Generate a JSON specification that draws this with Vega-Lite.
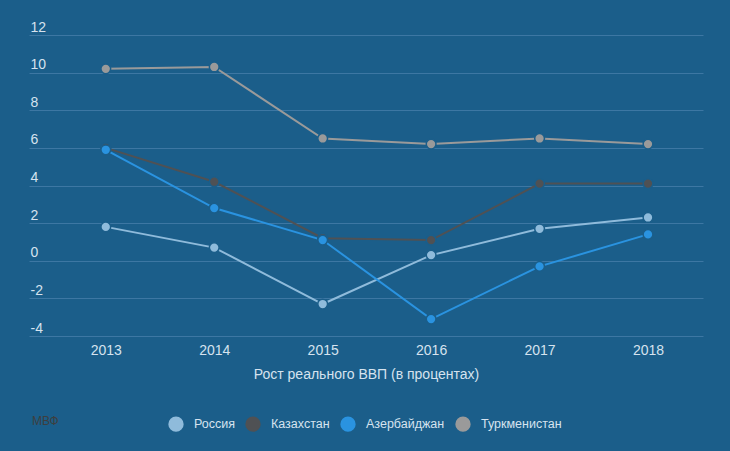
{
  "$schema": "https://vega.github.io/schema/vega-lite/v6.json",
  "width": 674,
  "height": 301,
  "autosize": {"type": "none"},
  "padding": {"left": 29, "top": 35, "right": 27, "bottom": 115},
  "background": "#1b5e8a",
  "config": {"view": {"stroke": null}, "font": "Liberation Sans"},
  "title": {
    "text": "МВФ",
    "orient": "bottom",
    "anchor": "start",
    "frame": "group",
    "fontSize": 12,
    "fontWeight": "normal",
    "color": "#3e3e3e",
    "offset": -16,
    "dx": 3
  },
  "data": {
    "values": [
      {"year": 2013, "country": "Россия", "value": 1.8},
      {"year": 2014, "country": "Россия", "value": 0.7},
      {"year": 2015, "country": "Россия", "value": -2.3},
      {"year": 2016, "country": "Россия", "value": 0.3},
      {"year": 2017, "country": "Россия", "value": 1.7},
      {"year": 2018, "country": "Россия", "value": 2.3},
      {"year": 2013, "country": "Казахстан", "value": 6.0},
      {"year": 2014, "country": "Казахстан", "value": 4.2},
      {"year": 2015, "country": "Казахстан", "value": 1.2},
      {"year": 2016, "country": "Казахстан", "value": 1.1},
      {"year": 2017, "country": "Казахстан", "value": 4.1},
      {"year": 2018, "country": "Казахстан", "value": 4.1},
      {"year": 2013, "country": "Азербайджан", "value": 5.9},
      {"year": 2014, "country": "Азербайджан", "value": 2.8},
      {"year": 2015, "country": "Азербайджан", "value": 1.1},
      {"year": 2016, "country": "Азербайджан", "value": -3.1},
      {"year": 2017, "country": "Азербайджан", "value": -0.3},
      {"year": 2018, "country": "Азербайджан", "value": 1.4},
      {"year": 2013, "country": "Туркменистан", "value": 10.2},
      {"year": 2014, "country": "Туркменистан", "value": 10.3},
      {"year": 2015, "country": "Туркменистан", "value": 6.5},
      {"year": 2016, "country": "Туркменистан", "value": 6.2},
      {"year": 2017, "country": "Туркменистан", "value": 6.5},
      {"year": 2018, "country": "Туркменистан", "value": 6.2}
    ]
  },
  "encoding": {
    "x": {
      "field": "year",
      "type": "quantitative",
      "scale": {"domain": [2012.292, 2018.507], "nice": false, "zero": false},
      "axis": {
        "values": [2013, 2014, 2015, 2016, 2017, 2018],
        "format": "d",
        "grid": false,
        "domain": false,
        "ticks": false,
        "labelColor": "#d6e3ef",
        "labelFontSize": 14,
        "labelPadding": 7,
        "title": "Рост реального ВВП (в процентах)",
        "titleColor": "#d6e3ef",
        "titleFontSize": 14,
        "titleFontWeight": "normal",
        "titlePadding": 10
      }
    },
    "y": {
      "field": "value",
      "type": "quantitative",
      "scale": {"domain": [-4, 12], "nice": false},
      "axis": {
        "values": [-4, -2, 0, 2, 4, 6, 8, 10, 12],
        "labelExpr": "datum.value + ''",
        "title": null,
        "domain": false,
        "ticks": false,
        "gridColor": "#3d77a3",
        "gridWidth": 1,
        "labelAlign": "left",
        "labelBaseline": "alphabetic",
        "labelOffset": -4,
        "labelPadding": -1,
        "labelColor": "#d6e3ef",
        "labelFontSize": 14
      }
    },
    "color": {
      "field": "country",
      "type": "nominal",
      "scale": {
        "domain": ["Россия", "Казахстан", "Азербайджан", "Туркменистан"],
        "range": ["#8fbbdb", "#4f5154", "#2a93e0", "#9a9a9a"]
      },
      "legend": {
        "orient": "none",
        "legendX": 139,
        "legendY": 381,
        "direction": "horizontal",
        "title": null,
        "symbolType": "circle",
        "symbolSize": 235,
        "symbolStrokeWidth": 0,
        "symbolOpacity": 1,
        "labelColor": "#d6e3ef",
        "labelFontSize": 12.5,
        "labelOffset": 10,
        "columnPadding": 10,
        "padding": 0
      }
    }
  },
  "layer": [
    {
      "mark": {"type": "line", "strokeWidth": 2}
    },
    {
      "mark": {
        "type": "point",
        "filled": true,
        "size": 95,
        "opacity": 1,
        "stroke": "#1b5e8a",
        "strokeWidth": 1.5
      }
    }
  ]
}
